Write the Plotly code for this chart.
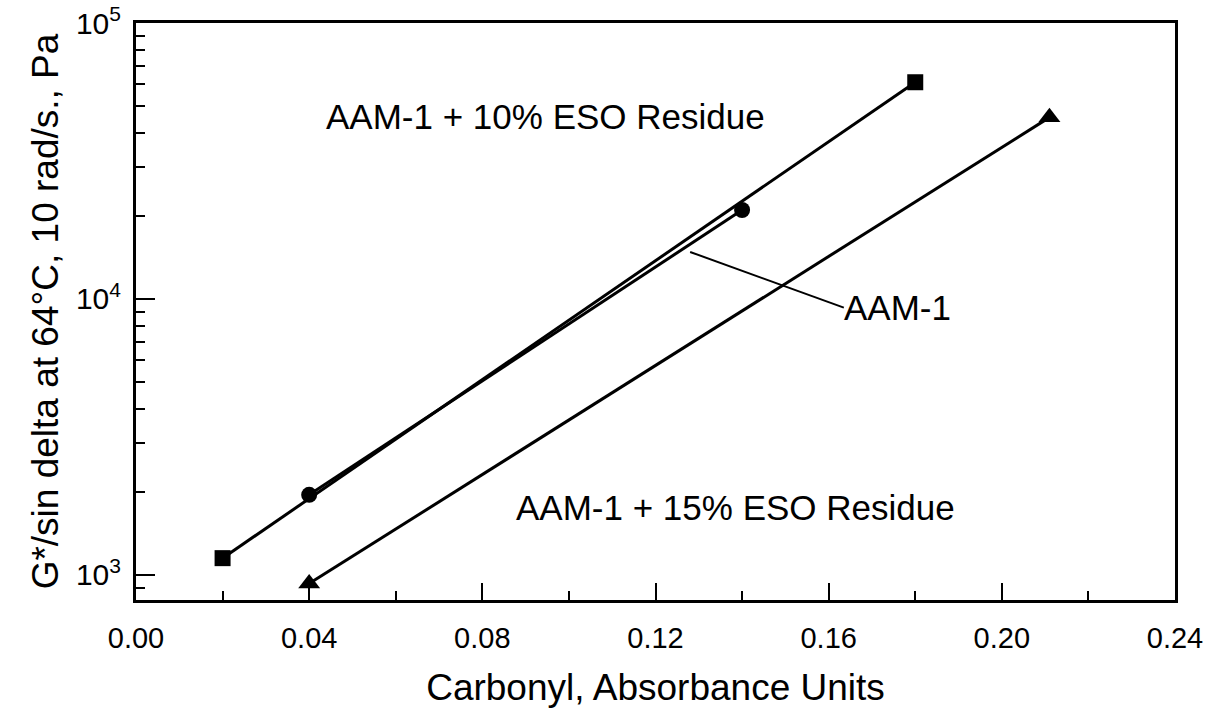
import plotly.graph_objects as go
import numpy as np

# Data
x_eso10 = [0.02, 0.18]
y_eso10 = [1150, 61000]
x_aam1 = [0.04, 0.14]
y_aam1 = [1950, 21000]
x_eso15 = [0.04, 0.211]
y_eso15 = [930, 45500]

x_ticks = [0.00, 0.04, 0.08, 0.12, 0.16, 0.20, 0.24]
x_ticktext = ["0.00", "0.04", "0.08", "0.12", "0.16", "0.20", "0.24"]
y_ticks = [1e3, 1e4, 1e5]
y_ticktext = ["10<sup>3</sup>", "10<sup>4</sup>", "10<sup>5</sup>"]

FONT = "Liberation Sans, Arial, Helvetica, sans-serif"

fig = go.Figure()
line = dict(color="black", width=3)
fig.add_trace(go.Scatter(x=x_eso10, y=y_eso10, mode="lines+markers", line=line,
                         marker=dict(symbol="square", size=16, color="black"), showlegend=False))
fig.add_trace(go.Scatter(x=x_aam1, y=y_aam1, mode="lines+markers", line=line,
                         marker=dict(symbol="circle", size=16, color="black"), showlegend=False))
fig.add_trace(go.Scatter(x=x_eso15, y=y_eso15, mode="lines+markers", line=line,
                         marker=dict(symbol="triangle-up", size=19, color="black"), showlegend=False))

minor_y = [m * 10 ** e for e in (2, 3, 4) for m in range(2, 10) if 800 < m * 10 ** e < 1e5]

fig.update_xaxes(range=[0, 0.24], tickvals=x_ticks, ticktext=x_ticktext,
                 ticks="inside", ticklen=17, tickwidth=2, tickcolor="black",
                 showline=True, linecolor="black", linewidth=3, mirror=True,
                 showgrid=False, zeroline=False, automargin=False, ticklabelstandoff=10,
                 minor=dict(tickvals=[0.02, 0.06, 0.10, 0.14, 0.18, 0.22], ticks="inside",
                            ticklen=9, tickwidth=2, tickcolor="black"),
                 tickfont=dict(family=FONT, size=29, color="black"),
                 title=dict(text="Carbonyl, Absorbance Units", font=dict(family=FONT, size=37, color="black"),
                            standoff=22))
fig.update_yaxes(type="log", range=[np.log10(811), 5], tickvals=y_ticks, ticktext=y_ticktext,
                 ticks="inside", ticklen=19, tickwidth=2, tickcolor="black",
                 showline=True, linecolor="black", linewidth=3, mirror=True,
                 showgrid=False, zeroline=False, automargin=False, ticklabelstandoff=6,
                 minor=dict(tickvals=minor_y, ticks="inside", ticklen=9, tickwidth=2, tickcolor="black"),
                 tickfont=dict(family=FONT, size=30, color="black"),
                 title=dict(text="G*/sin delta at 64°C, 10 rad/s., Pa",
                            font=dict(family=FONT, size=37, color="black"), standoff=6))

ann_font = dict(family=FONT, size=35, color="black")
fig.add_annotation(x=0.0947, y=np.log10(46000), text="AAM-1 + 10% ESO Residue", showarrow=False,
                   font=ann_font, xanchor="center", yanchor="middle")
fig.add_annotation(x=0.1385, y=np.log10(1760), text="AAM-1 + 15% ESO Residue", showarrow=False,
                   font=ann_font, xanchor="center", yanchor="middle")
# AAM-1 label with leader line
lead_x = [0.128, 0.1635]
lead_y = [14800, 9300]
fig.add_shape(type="line", xref="x", yref="y", x0=lead_x[0], y0=lead_y[0], x1=lead_x[1], y1=lead_y[1],
              line=dict(color="black", width=2))
fig.add_annotation(x=lead_x[1], y=np.log10(lead_y[1]), text="AAM-1", showarrow=False,
                   font=ann_font, xanchor="left", yanchor="middle", xshift=-2)

fig.update_layout(width=1217, height=721, margin=dict(l=136, r=42, t=23, b=121),
                  plot_bgcolor="white", paper_bgcolor="white",
                  font=dict(family=FONT, color="black"))

fig.write_html("out.html")
